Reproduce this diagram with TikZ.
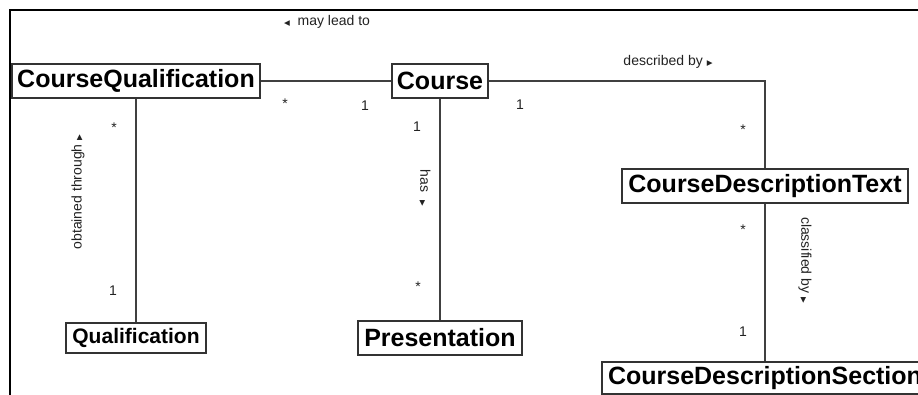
\documentclass[tikz,border=0pt]{standalone}
\usepackage{fontspec}
\setmainfont{Liberation Sans}
\newfontfamily\trifont{DejaVu Sans}
\definecolor{boxline}{HTML}{333333}
\definecolor{conn}{HTML}{404040}
\definecolor{lbl}{HTML}{222222}
\newcommand{\tri}[1]{{\trifont\fontsize{7.5}{9}\selectfont #1}}
\tikzset{
  cls/.style={draw=boxline, line width=1.4pt, fill=white, inner sep=0pt,
              font=\bfseries\fontsize{25}{28}\selectfont, text=black},
  clssmall/.style={cls, font=\bfseries\fontsize{21}{24}\selectfont},
  assoc/.style={draw=conn, line width=1.3pt},
  lab/.style={inner sep=0pt, text=lbl, font=\fontsize{14}{16}\selectfont},
  mult/.style={inner sep=0pt, text=lbl, font=\fontsize{14}{16}\selectfont},
  frame/.style={draw=black, line width=2pt}
}
\begin{document}
\begin{tikzpicture}[x=1pt, y=-1pt]
\fill[white] (0,0) rectangle (918,395);
\useasboundingbox (0,0) rectangle (918,395);
\clip (0,0) rectangle (918,395);
\draw[frame] (10,395) -- (10,10) -- (918,10);

\node[cls, minimum width=248pt, minimum height=34pt] (cq) at (136,81) {CourseQualification};
\node[cls, minimum width=96pt, minimum height=34pt] (course) at (440,81) {Course};
\node[cls, minimum width=286pt, minimum height=34pt] (cdt) at (765,186) {CourseDescriptionText};
\node[clssmall, minimum width=140pt, minimum height=30pt] (qual) at (136,338) {Qualification};
\node[cls, minimum width=164pt, minimum height=34pt] (pres) at (440,338) {Presentation};
\node[cls, minimum width=326pt, minimum height=32pt] (cds) at (765,378) {CourseDescriptionSection};

\draw[assoc] (cq.east) -- (course.west);
\draw[assoc] (course.east) -| (cdt.north);
\draw[assoc] (cq.south) -- (qual.north);
\draw[assoc] (course.south) -- (pres.north);
\draw[assoc] (cdt.south) -- (cds.north);

\node[lab] (l1) at (327,22) {\tri{◀}\ \ may lead to};
\node[lab] (l2) at (668,62) {described by \tri{▶}};
\node[lab, rotate=90] (l3) at (78,192) {obtained through \tri{▶}};
\node[lab, rotate=-90] (l4) at (425,188) {has\ \ \tri{▶}};
\node[lab, rotate=-90] (l5) at (805,260) {classified by \tri{▶}};

\node[mult] (m1) at (285,104) {*};
\node[mult] (m2) at (365,106) {1};
\node[mult] (m3) at (114,128) {*};
\node[mult] (m4) at (113,291) {1};
\node[mult] (m5) at (417,127) {1};
\node[mult] (m6) at (418,287) {*};
\node[mult] (m7) at (520,105) {1};
\node[mult] (m8) at (743,130) {*};
\node[mult] (m9) at (743,230) {*};
\node[mult] (m10) at (743,332) {1};
\end{tikzpicture}
\end{document}
